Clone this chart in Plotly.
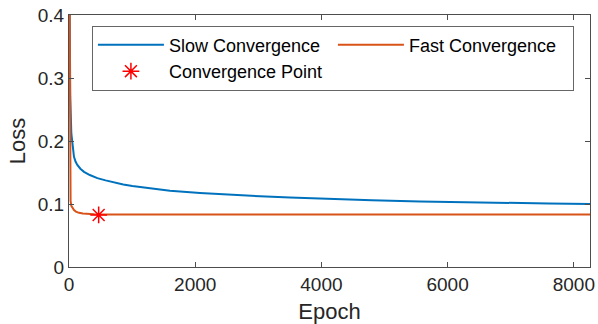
import plotly.graph_objects as go

# ---- data ----
slow_epoch = [1, 10, 20, 37, 55, 79, 105, 132, 180, 238, 330, 449, 580, 713, 860,
              1003, 1284, 1600, 2076, 2500, 3027, 3500, 4000, 4800, 5563, 6300,
              7000, 7600, 8256]
slow_loss = [0.55, 0.38, 0.27, 0.212, 0.19, 0.175, 0.167, 0.162, 0.156, 0.151,
             0.146, 0.141, 0.1375, 0.134, 0.131, 0.1285, 0.1245, 0.121, 0.1175,
             0.1148, 0.1122, 0.1102, 0.1084, 0.106, 0.104, 0.1025, 0.1015, 0.1008,
             0.100]

fast_epoch = [1, 10, 16, 25, 37, 55, 79, 110, 158, 220, 290, 400, 600, 1000,
              2000, 4000, 6000, 8256]
fast_loss = [0.6, 0.3, 0.14, 0.105, 0.097, 0.093, 0.0905, 0.088, 0.086, 0.0848,
             0.0841, 0.0837, 0.0835, 0.0835, 0.0835, 0.0835, 0.0835, 0.0835]

conv_epoch = [470]
conv_loss = [0.0826]

x_ticks = [0, 2000, 4000, 6000, 8000]
y_ticks = [0, 0.1, 0.2, 0.3, 0.4]

FONT = "Liberation Sans, Arial, sans-serif"
AX = "#4d4d4d"

fig = go.Figure()
fig.add_trace(go.Scatter(x=slow_epoch, y=slow_loss, mode="lines",
                         name="Slow Convergence",
                         line=dict(color="#0072BD", width=2)))
fig.add_trace(go.Scatter(x=fast_epoch, y=fast_loss, mode="lines",
                         name="Fast Convergence",
                         line=dict(color="#D95319", width=2)))
fig.add_trace(go.Scatter(x=conv_epoch, y=conv_loss, mode="markers",
                         name="Convergence Point",
                         marker=dict(symbol="asterisk-open", size=14,
                                     color="#FF0000",
                                     line=dict(color="#FF0000", width=1.5))))

axis_common = dict(showline=True, linecolor=AX, linewidth=1, mirror="ticks",
                   ticks="inside", ticklen=5, tickcolor=AX, tickwidth=1,
                   showgrid=False, zeroline=False, automargin=False,
                   tickfont=dict(family=FONT, size=19, color="#262626"))

fig.update_xaxes(range=[0, 8256], tickvals=x_ticks,
                 title=dict(text="Epoch", font=dict(family=FONT, size=22, color="#262626"),
                            standoff=12),
                 **axis_common)
fig.update_yaxes(range=[0, 0.4], tickvals=y_ticks,
                 title=dict(text="Loss", font=dict(family=FONT, size=22, color="#262626"),
                            standoff=6),
                 **axis_common)

fig.update_layout(
    width=598, height=324,
    margin=dict(l=69, r=8, t=15, b=57),
    paper_bgcolor="white", plot_bgcolor="white",
    font=dict(family=FONT, color="#000000"),
    legend=dict(orientation="h", x=0.044, y=0.958, xanchor="left", yanchor="top",
                bgcolor="white", bordercolor="#666666", borderwidth=1,
                font=dict(family=FONT, size=18, color="#000000"),
                itemwidth=66, entrywidth=159, entrywidthmode="pixels",
                tracegroupgap=0),
    showlegend=True,
)

fig.write_html("out.html")
